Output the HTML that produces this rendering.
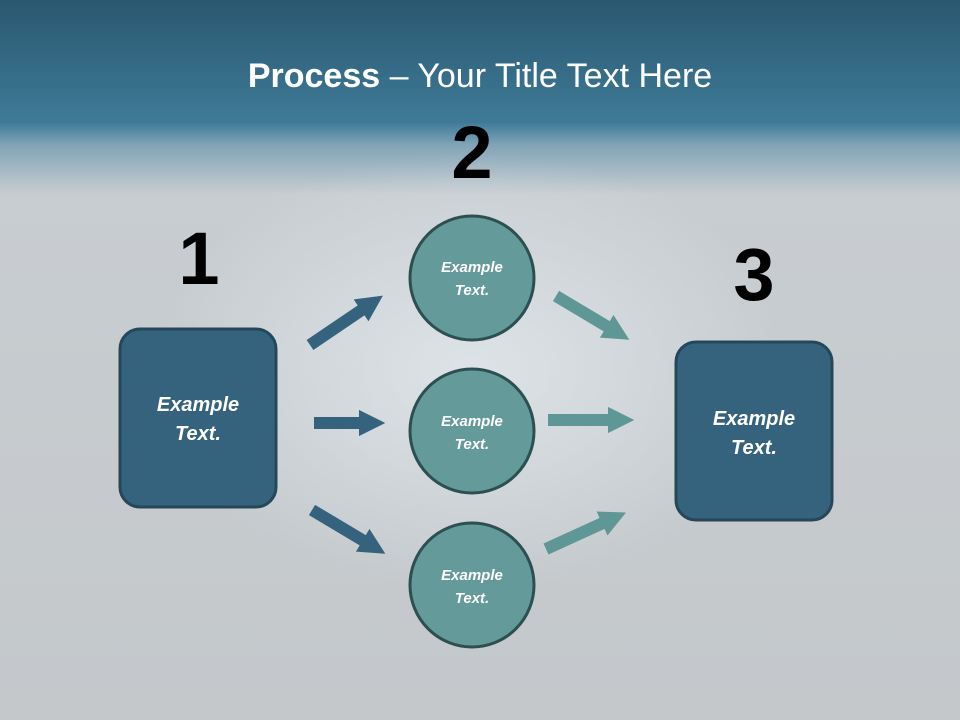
<!DOCTYPE html>
<html><head><meta charset="utf-8"><style>
html,body{margin:0;padding:0;width:960px;height:720px;overflow:hidden}
</style></head><body>
<svg width="960" height="720" xmlns="http://www.w3.org/2000/svg" font-family="'Liberation Sans',sans-serif">
<defs>
<linearGradient id="bg" x1="0" y1="0" x2="0" y2="1">
<stop offset="0" stop-color="#2a5870"/>
<stop offset="0.17" stop-color="#3e7a97"/>
<stop offset="0.2" stop-color="#7fa3b6"/>
<stop offset="0.27" stop-color="#c8cdd1"/>
<stop offset="1" stop-color="#c4c8cb"/>
</linearGradient>
<radialGradient id="glow" cx="0.5" cy="0.5" r="0.5">
<stop offset="0" stop-color="#e6eef2" stop-opacity="0.7"/>
<stop offset="1" stop-color="#e6eef2" stop-opacity="0"/>
</radialGradient>
<marker id="ad" viewBox="0 0 10 10" refX="5" refY="5" markerWidth="2.2" markerHeight="2.2" orient="auto"><path d="M0,0 L10,5 L0,10z" fill="#35637d"/></marker>
<marker id="at" viewBox="0 0 10 10" refX="5" refY="5" markerWidth="2.2" markerHeight="2.2" orient="auto"><path d="M0,0 L10,5 L0,10z" fill="#5f9696"/></marker>
</defs>
<rect width="960" height="720" fill="url(#bg)"/>
<ellipse cx="470" cy="370" rx="320" ry="220" fill="url(#glow)"/>
<text x="480" y="87" text-anchor="middle" fill="#fff" font-size="34"><tspan font-weight="bold">Process</tspan> – Your Title Text Here</text>
<g font-weight="bold" font-size="74" fill="#000" text-anchor="middle">
<text x="199" y="284">1</text><text x="472" y="178">2</text><text x="754" y="300">3</text>
</g>
<g stroke-width="12">
<line x1="310" y1="345" x2="372" y2="303" stroke="#35637d" marker-end="url(#ad)"/>
<line x1="314" y1="423" x2="372" y2="423" stroke="#35637d" marker-end="url(#ad)"/>
<line x1="312" y1="510" x2="374" y2="547" stroke="#35637d" marker-end="url(#ad)"/>
<line x1="556" y1="296" x2="618" y2="333" stroke="#5f9696" marker-end="url(#at)"/>
<line x1="548" y1="420" x2="621" y2="420" stroke="#5f9696" marker-end="url(#at)"/>
<line x1="546" y1="549" x2="614" y2="518" stroke="#5f9696" marker-end="url(#at)"/>
</g>
<rect x="120" y="329" width="156" height="178" rx="20" fill="#35637d" stroke="#26475a" stroke-width="3"/>
<rect x="676" y="342" width="156" height="178" rx="20" fill="#35637d" stroke="#26475a" stroke-width="3"/>
<g fill="#649a99" stroke="#2d4f52" stroke-width="3">
<circle cx="472" cy="278" r="62"/><circle cx="472" cy="431" r="62"/><circle cx="472" cy="585" r="62"/>
</g>
<g fill="#fff" font-weight="bold" font-style="italic" text-anchor="middle">
<text x="198" y="411" font-size="20">Example</text><text x="198" y="440" font-size="20">Text.</text>
<text x="754" y="425" font-size="20">Example</text><text x="754" y="454" font-size="20">Text.</text>
<g font-size="15">
<text x="472" y="272">Example</text><text x="472" y="295">Text.</text>
<text x="472" y="426">Example</text><text x="472" y="449">Text.</text>
<text x="472" y="580">Example</text><text x="472" y="603">Text.</text>
</g></g>
</svg>
</body></html>
